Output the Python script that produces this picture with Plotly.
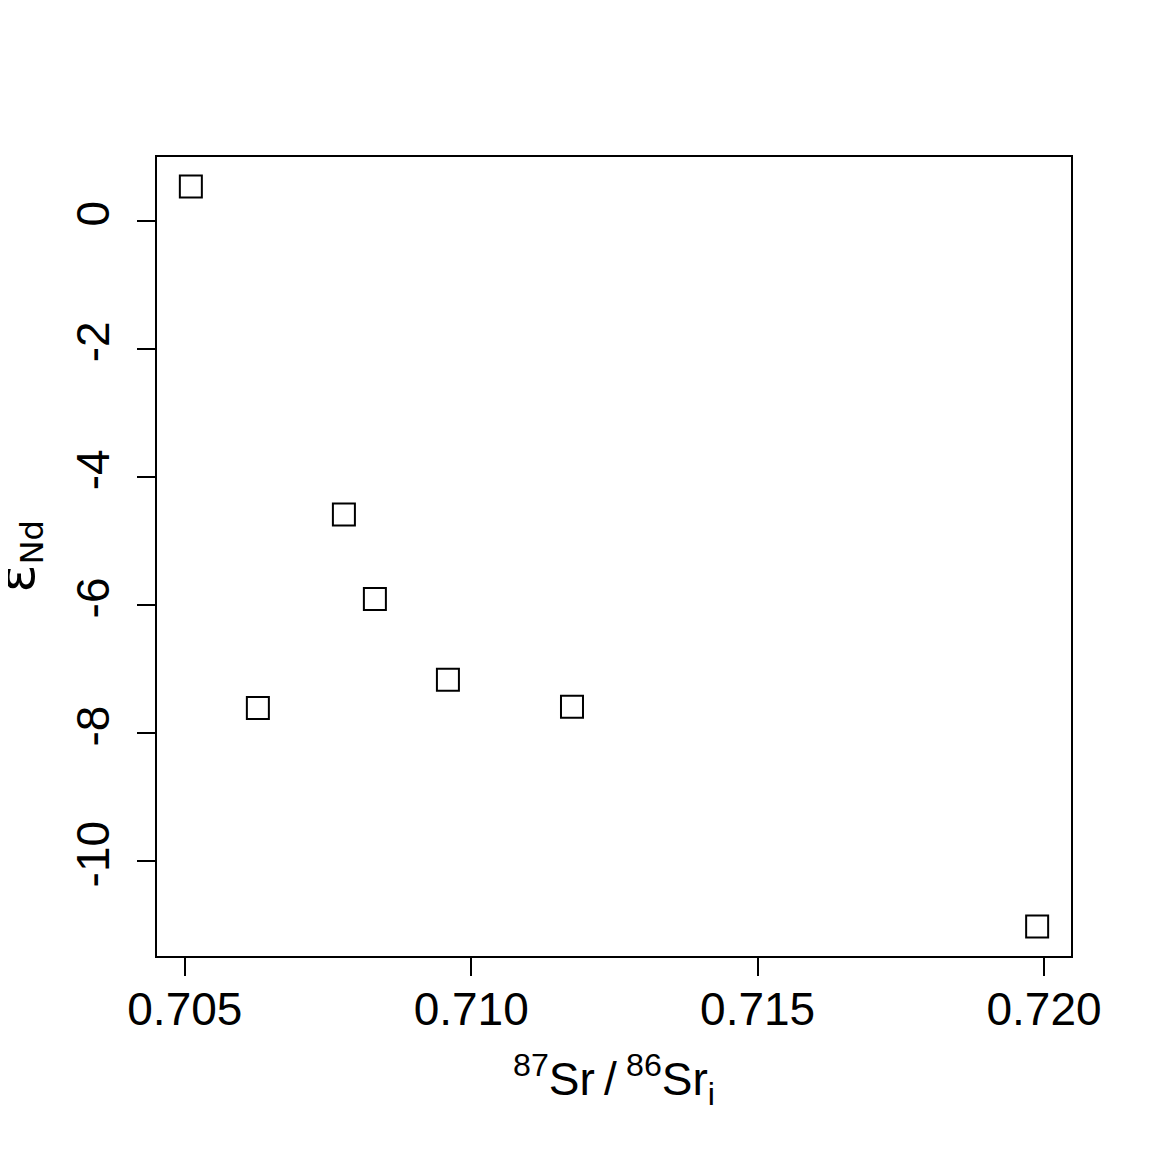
import plotly.graph_objects as go

sr_ratio = [0.705105, 0.706275, 0.707777, 0.708318, 0.709593, 0.711759, 0.719880]
eps_nd = [0.53, -7.61, -4.59, -5.91, -7.17, -7.59, -11.02]

x_ticks = [0.705, 0.710, 0.715, 0.720]
x_tick_labels = ["0.705", "0.710", "0.715", "0.720"]
y_ticks = [0, -2, -4, -6, -8, -10]
y_tick_labels = ["0", "-2", "-4", "-6", "-8", "-10"]

fig = go.Figure()
fig.add_trace(go.Scatter(
    x=sr_ratio, y=eps_nd, mode="markers",
    marker=dict(symbol="square-open", size=22, color="black", line=dict(width=2, color="black")),
    showlegend=False,
))

font_family = "Liberation Sans, Arial, sans-serif"

fig.update_layout(
    width=1152, height=1152,
    paper_bgcolor="white", plot_bgcolor="white",
    margin=dict(l=149, r=89, t=149, b=204, pad=0),
    font=dict(family=font_family, size=46, color="black"),
    xaxis=dict(
        range=[0.704514, 0.720471],
        tickvals=x_ticks, ticktext=x_tick_labels,
        ticks="outside", ticklen=18, tickwidth=2, tickcolor="black",
        showline=True, linecolor="black", linewidth=2, mirror=True,
        showgrid=False, zeroline=False,
        tickfont=dict(size=46),
        ticklabelstandoff=-6,
    ),
    yaxis=dict(
        range=[-11.482, 0.992],
        tickvals=y_ticks, ticktext=y_tick_labels,
        ticks="outside", ticklen=18, tickwidth=2, tickcolor="black",
        showline=True, linecolor="black", linewidth=2, mirror=True,
        showgrid=False, zeroline=False,
        tickangle=-90,
        tickfont=dict(size=46),
        ticklabelstandoff=10,
    ),
    annotations=[
        dict(text="<sup>87</sup>Sr\u2009/\u2009<sup>86</sup>Sr<sub>i</sub>", xref="paper", yref="paper",
             x=0.5, y=-0.154, xanchor="center", yanchor="middle", showarrow=False,
             font=dict(size=46)),
        dict(text="<span style='font-size:52px'>ε</span><sub>Nd</sub>", xref="paper", yref="paper",
             x=-0.152, y=0.5, xanchor="center", yanchor="middle", showarrow=False,
             textangle=-90, font=dict(size=46, family="DejaVu Sans, Liberation Sans")),
    ],
)

fig.write_html("out.html")
